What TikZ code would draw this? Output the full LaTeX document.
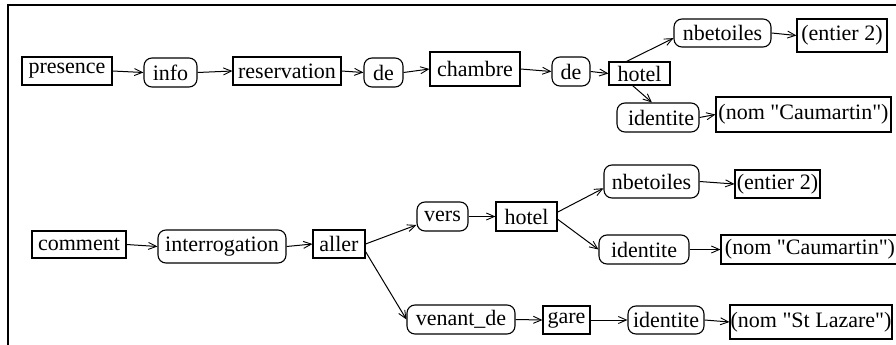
\documentclass[tikz,border=0pt]{standalone}
\usepackage{fontspec}
% a family without the TeX ligature mapping keeps straight double quotes
\newfontfamily\labelfont{Liberation Serif}
\usetikzlibrary{arrows.meta}
\begin{document}
\begin{tikzpicture}[x=1pt,y=-1pt,
  every node/.style={inner sep=0pt,font=\labelfont\fontsize{22}{26}\selectfont},
  term/.style={draw,line width=1.1pt},
  rel/.style={draw,line width=1.1pt,rounded corners=8pt},
  link/.style={line width=1pt,-{Straight Barb[length=8pt,width=7pt,line width=0.9pt]}},
  frameline/.style={line width=1.3pt}]
\path[use as bounding box,clip] (0,0) rectangle (896,345);
\fill[white] (0,0) rectangle (896,345);
% frame: top and left edges
\coordinate (fTR) at (896,5);
\coordinate (fTL) at (8,5);
\coordinate (fBL) at (8,345);
\draw[frameline] (fTR) -- (fTL) -- (fBL);

% first sentence
\node[term,minimum width=90pt,minimum height=28pt] (presence) at (67,71) {presence};
\node[rel,minimum width=53pt,minimum height=29pt] (info) at (170.5,72.5) {info};
\node[term,minimum width=108pt,minimum height=28pt] (reservation) at (287,71) {reservation};
\node[rel,minimum width=39pt,minimum height=29pt] (deA) at (383.5,72.5) {de};
\node[term,minimum width=90pt,minimum height=34pt] (chambre) at (475,69) {chambre};
\node[rel,minimum width=38pt,minimum height=29pt] (deB) at (571,71.5) {de};
\node[term,minimum width=61pt,minimum height=23pt] (hotelA) at (639.5,73.5) {hotel\hspace{14pt}};
\node[rel,minimum width=97pt,minimum height=28pt] (nbetA) at (722.5,33) {nbetoiles\hspace{4pt}};
\node[term,minimum width=90pt,minimum height=33pt] (entierA) at (842,35.5) {(entier 2)};
\node[rel,minimum width=82pt,minimum height=29pt] (identA) at (658,117.5) {\hspace{6pt}identite};
\node[term,minimum width=175pt,minimum height=35pt] (nomA) at (803.5,114.5) {(nom "Caumartin")};

\draw[link] (presence.east) -- (info.west);
\draw[link] (info.east) -- (reservation.west);
\draw[link] (reservation.east) -- (deA.west);
\draw[link] (deA.east) -- (chambre.west);
\draw[link] (chambre.east) -- (deB.west);
\draw[link] (deB.east) -- (hotelA.west);
\draw[link] (hotelA.137) -- (nbetA.186);
\draw[link] (nbetA.east) -- (entierA.west);
\draw[link] (hotelA.240) -- (identA.112);
\draw[link] (identA.east) -- (nomA.west);

% second sentence
\node[term,minimum width=94pt,minimum height=27pt] (comment) at (79,244.5) {comment};
\node[rel,minimum width=128pt,minimum height=33pt] (interrogation) at (222,246.5) {interrogation};
\node[term,minimum width=52pt,minimum height=28pt] (aller) at (339,244) {aller};
\node[rel,minimum width=51pt,minimum height=29pt] (vers) at (442.5,216.5) {vers};
\node[term,minimum width=61pt,minimum height=29pt] (hotelB) at (526.5,216.5) {hotel};
\node[rel,minimum width=95pt,minimum height=33pt] (nbetB) at (651.5,181.5) {nbetoiles};
\node[term,minimum width=85pt,minimum height=28pt] (entierB) at (777.5,184) {(entier 2)\hspace{4pt}};
\node[rel,minimum width=90pt,minimum height=29pt] (identB) at (644,249.5) {identite};
\node[term,minimum width=178pt,minimum height=29pt] (nomB) at (810,249.5) {(nom "Caumartin")\hspace{4pt}};
\node[rel,minimum width=108pt,minimum height=29pt] (venant) at (461,319.5) {venant\_de};
\node[term,minimum width=47pt,minimum height=28pt] (gare) at (566.5,320) {gare};
\node[rel,minimum width=76pt,minimum height=28pt] (identC) at (666,320) {identite};
\node[term,minimum width=162pt,minimum height=34pt] (nomC) at (811,322) {(nom "St Lazare")};

\draw[link] (comment.east) -- (interrogation.west);
\draw[link] (interrogation.east) -- (aller.west);
\draw[link] (aller.east) -- (vers.198);
\draw[link] (aller.344) -- (venant.west);
\draw[link] (vers.east) -- (hotelB.west);
\draw[link] (hotelB.8) -- (nbetB.188);
\draw[link] (hotelB.355) -- (identB.west);
\draw[link] (nbetB.east) -- (entierB.west);
\draw[link] (identB.east) -- (nomB.west);
\draw[link] (venant.east) -- (gare.west);
\draw[link] (gare.east) -- (identC.west);
\draw[link] (identC.east) -- (nomC.west);
\end{tikzpicture}
\end{document}
